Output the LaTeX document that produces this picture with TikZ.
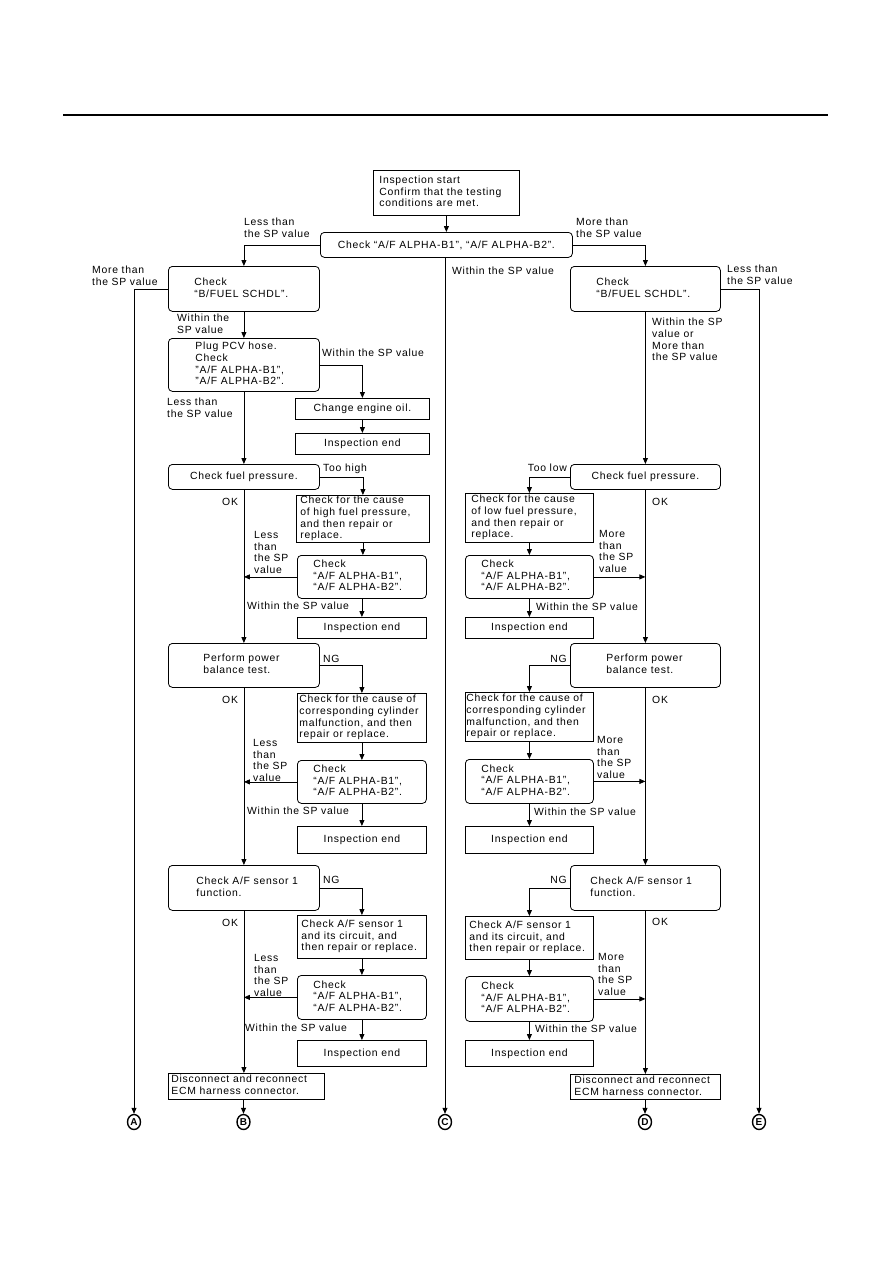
\documentclass[tikz,border=0pt]{standalone}
\usepackage{fontspec}
\setmainfont{Liberation Sans}[LetterSpace=7]
\newfontfamily\plainfont{Liberation Sans}
\usetikzlibrary{arrows.meta,shapes.geometric}
\newcommand{\bx}[8]{\node[#2, anchor=north west, minimum width=#5pt, minimum height=#6pt, inner sep=0pt] (#1) at (#3,#4) {\makebox[#5pt][l]{\hspace*{#7pt}\begin{tabular}{@{}l@{}}#8\end{tabular}}};}
\newcommand{\cbx}[7]{\node[#2, anchor=north west, minimum width=#5pt, minimum height=#6pt, inner sep=0pt, align=center] (#1) at (#3,#4) {#7};}
\begin{document}
\begin{tikzpicture}[x=1pt,y=-1pt,
 every node/.style={font=\fontsize{10.4}{11.6}\selectfont},
 rbox/.style={draw, line width=0.8pt, rounded corners=4pt},
 sbox/.style={draw, line width=0.8pt},
 lab/.style={anchor=north west, align=left, inner sep=0pt, yshift=3.9pt},
 labr/.style={anchor=north east, align=right, inner sep=0pt, yshift=3.9pt},
 arr/.style={line width=0.8pt, -{Triangle[length=6pt,width=5pt]}},
 term/.style={ellipse, draw, line width=1.4pt, minimum width=13pt, minimum height=15pt, inner sep=0pt, font=\plainfont\bfseries\fontsize{10}{10}\selectfont}]
\useasboundingbox (0,0) rectangle (893,1263);
\draw[line width=2pt] (63,115) -- (828,115);

% top
\bx{start}{sbox}{373}{170}{146}{45}{6}{Inspection start\\Confirm that the testing\\conditions are met.}
\cbx{chk0}{rbox}{320}{232}{252}{25}{Check “A/F ALPHA-B1”, “A/F ALPHA-B2”.}

% left column
\bx{bfL}{rbox}{168}{266}{151}{45}{26}{Check\\“B/FUEL SCHDL”.}
\bx{pcv}{rbox}{168}{338}{151}{53}{27}{Plug PCV hose.\\Check\\"A/F ALPHA-B1",\\"A/F ALPHA-B2".}
\cbx{oil}{sbox}{295}{398}{134}{21}{Change engine oil.}
\cbx{endA}{sbox}{295}{433}{134}{21}{Inspection end}
\cbx{fpL}{rbox}{168}{464}{151}{25}{Check fuel pressure.}
\bx{hfp}{sbox}{296}{495}{133}{47}{4}{Check for the cause\\of high fuel pressure,\\and then repair or\\replace.}
\bx{ckL1}{rbox}{297}{555}{129}{43}{16}{Check\\“A/F ALPHA-B1”,\\“A/F ALPHA-B2”.}
\cbx{endL1}{sbox}{297}{617}{129}{21}{Inspection end}
\bx{pbL}{rbox}{168}{643}{151}{44}{35}{Perform power\\balance test.}
\bx{cylL}{sbox}{297}{693}{129}{49}{2}{Check for the cause of\\corresponding cylinder\\malfunction, and then\\repair or replace.}
\bx{ckL2}{rbox}{297}{760}{129}{43}{16}{Check\\“A/F ALPHA-B1”,\\“A/F ALPHA-B2”.}
\cbx{endL2}{sbox}{297}{826}{129}{27}{Inspection end}
\bx{snL}{rbox}{168}{865}{151}{45}{28}{Check A/F sensor 1\\function.}
\bx{scL}{sbox}{297}{915}{129}{43}{4}{Check A/F sensor 1\\and its circuit, and\\then repair or replace.}
\bx{ckL3}{rbox}{297}{975}{129}{44}{16}{Check\\“A/F ALPHA-B1”,\\“A/F ALPHA-B2”.}
\cbx{endL3}{sbox}{297}{1040}{129}{26}{Inspection end}
\bx{dcL}{sbox}{168}{1073}{156}{26}{3}{Disconnect and reconnect\\ECM harness connector.}

% right column
\bx{bfR}{rbox}{570}{266}{150}{45}{26}{Check\\“B/FUEL SCHDL”.}
\cbx{fpR}{rbox}{570}{464}{150}{25}{Check fuel pressure.}
\bx{lfp}{sbox}{465}{493}{128}{49}{6}{Check for the cause\\of low fuel pressure,\\and then repair or\\replace.}
\bx{ckR1}{rbox}{465}{555}{128}{43}{16}{Check\\“A/F ALPHA-B1”,\\“A/F ALPHA-B2”.}
\cbx{endR1}{sbox}{465}{617}{128}{21}{Inspection end}
\bx{pbR}{rbox}{570}{643}{150}{44}{36}{Perform power\\balance test.}
\bx{cylR}{sbox}{465}{692}{128}{49}{1}{Check for the cause of\\corresponding cylinder\\malfunction, and then\\repair or replace.}
\bx{ckR2}{rbox}{465}{759}{128}{44}{16}{Check\\“A/F ALPHA-B1”,\\“A/F ALPHA-B2”.}
\cbx{endR2}{sbox}{465}{826}{128}{27}{Inspection end}
\bx{snR}{rbox}{570}{865}{150}{45}{20}{Check A/F sensor 1\\function.}
\bx{scR}{sbox}{465}{916}{128}{43}{4}{Check A/F sensor 1\\and its circuit, and\\then repair or replace.}
\bx{ckR3}{rbox}{465}{976}{128}{45}{16}{Check\\“A/F ALPHA-B1”,\\“A/F ALPHA-B2”.}
\cbx{endR3}{sbox}{465}{1040}{128}{26}{Inspection end}
\bx{dcR}{sbox}{570}{1074}{150}{25}{4}{Disconnect and reconnect\\ECM harness connector.}

% terminals
\node[term] (A) at (134,1122) {A};
\node[term] (B) at (243.5,1122) {B};
\node[term] (C) at (445,1122) {C};
\node[term] (D) at (645,1122) {D};
\node[term] (E) at (759,1122) {E};

% connectors top
\draw[arr] (start.south) -- (start.south |- chk0.north);
\draw[arr] (chk0.west) -| (bfL.north);
\draw[arr] (chk0.east) -| (bfR.north);
\draw[arr] (chk0.south -| C.north) -- (C.north);
\draw[arr] (bfL.west) -| (A.north);
\draw[arr] (bfR.east) -| (E.north);

% left connectors
\draw[arr] (bfL.south) -- (pcv.north);
\draw[arr] (pcv.east) -| (oil.north);
\draw[arr] (oil.south) -- (endA.north);
\draw[arr] (pcv.south) -- (fpL.north);
\draw[arr] (fpL.east) -| (hfp.north);
\draw[arr] (hfp.south) -- (hfp.south |- ckL1.north);
\draw[arr] (ckL1.west) -- (ckL1.west -| fpL.south);
\draw[arr] (ckL1.south) -- (endL1.north);
\draw[arr] (fpL.south) -- (pbL.north);
\draw[arr] (pbL.east) -| (cylL.north);
\draw[arr] (cylL.south) -- (ckL2.north);
\draw[arr] (ckL2.west) -- (ckL2.west -| pbL.south);
\draw[arr] (ckL2.south) -- (endL2.north);
\draw[arr] (pbL.south) -- (snL.north);
\draw[arr] (snL.east) -| (scL.north);
\draw[arr] (scL.south) -- (ckL3.north);
\draw[arr] (ckL3.west) -- (ckL3.west -| snL.south);
\draw[arr] (ckL3.south) -- (endL3.north);
\draw[arr] (snL.south) -- (snL.south |- dcL.north);
\draw[arr] (dcL.south -| B.north) -- (B.north);

% right connectors
\draw[arr] (bfR.south) -- (fpR.north);
\draw[arr] (fpR.west) -| (lfp.north);
\draw[arr] (lfp.south) -- (ckR1.north);
\draw[arr] (ckR1.east) -- (ckR1.east -| fpR.south);
\draw[arr] (ckR1.south) -- (endR1.north);
\draw[arr] (fpR.south) -- (pbR.north);
\draw[arr] (pbR.west) -| (cylR.north);
\draw[arr] (cylR.south) -- (ckR2.north);
\draw[arr] (ckR2.east) -- (ckR2.east -| pbR.south);
\draw[arr] (ckR2.south) -- (endR2.north);
\draw[arr] (pbR.south) -- (snR.north);
\draw[arr] (snR.west) -| (scR.north);
\draw[arr] (scR.south) -- (ckR3.north);
\draw[arr] (ckR3.east) -- (ckR3.east -| snR.south);
\draw[arr] (ckR3.south) -- (endR3.north);
\draw[arr] (snR.south) -- (dcR.north);
\draw[arr] (dcR.south -| D.north) -- (D.north);

% labels left
\node[lab] (t1) at (244,222) {Less than\\the SP value};
\node[lab] (t2) at (576,222) {More than\\the SP value};
\node[lab] (t3) at (452,271) {Within the SP value};
\node[lab] (t4) at (92,270) {More than\\the SP value};
\node[lab] (t5) at (177,318) {Within the\\SP value};
\node[lab] (t6) at (322,353) {Within the SP value};
\node[lab] (t7) at (167,402) {Less than\\the SP value};
\node[lab] (t8) at (323,468) {Too high};
\node[lab] (t9) at (222,502) {OK};
\node[lab] (t10) at (254,535) {Less\\than\\the SP\\value};
\node[lab] (t11) at (247,606) {Within the SP value};
\node[lab] (t12) at (323,659) {NG};
\node[lab] (t13) at (222,700) {OK};
\node[lab] (t14) at (253,743) {Less\\than\\the SP\\value};
\node[lab] (t15) at (247,811) {Within the SP value};
\node[lab] (t16) at (323,880) {NG};
\node[lab] (t17) at (222,923) {OK};
\node[lab] (t18) at (254,958) {Less\\than\\the SP\\value};
\node[lab] (t19) at (245,1028) {Within the SP value};

% labels right
\node[lab] (r1) at (727,269) {Less than\\the SP value};
\node[lab] (r2) at (652,322) {Within the SP\\value or\\More than\\the SP value};
\node[labr] (r3) at (567,468) {Too low};
\node[lab] (r4) at (652,502) {OK};
\node[lab] (r5) at (599,534) {More\\than\\the SP\\value};
\node[lab] (r6) at (536,607) {Within the SP value};
\node[labr] (r7) at (567,659) {NG};
\node[lab] (r8) at (652,700) {OK};
\node[lab] (r9) at (597,740) {More\\than\\the SP\\value};
\node[lab] (r10) at (534,812) {Within the SP value};
\node[labr] (r11) at (567,880) {NG};
\node[lab] (r12) at (652,922) {OK};
\node[lab] (r13) at (598,957) {More\\than\\the SP\\value};
\node[lab] (r14) at (535,1029) {Within the SP value};
\end{tikzpicture}
\end{document}
